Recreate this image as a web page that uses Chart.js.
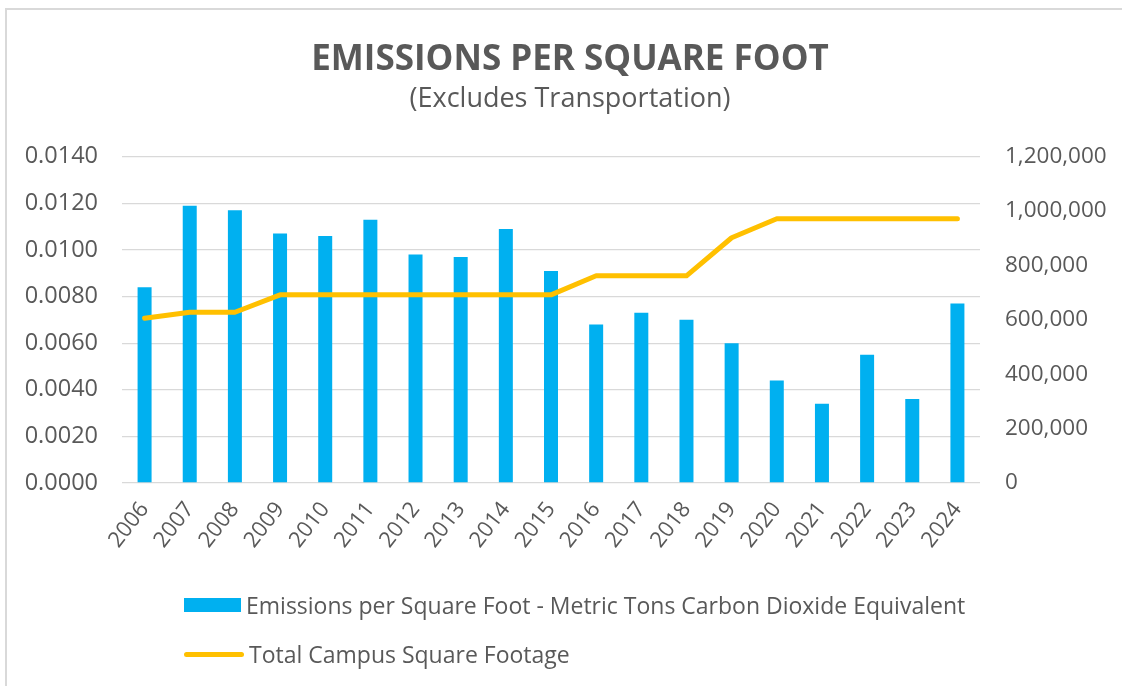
<!DOCTYPE html>
<html>
<head>
<meta charset="utf-8">
<script src="https://cdn.jsdelivr.net/npm/chart.js@4.4.1/dist/chart.umd.min.js"></script>
<style>
  html, body { margin: 0; padding: 0; background: #fff; overflow: hidden; width: 1122px; height: 686px; }
  #hline { position: absolute; left: 5px; top: 8px; width: 1117px; height: 2px; background: #d9d9d9; }
  #vline { position: absolute; left: 5px; top: 8px; width: 2px; height: 678px; background: #d9d9d9; }
  #wrap { position: absolute; left: 6px; top: 9px; width: 1116px; height: 677px; overflow: hidden; }
  #inner { position: absolute; left: 0; top: 0; width: 1128px; height: 677px; }
  #legend { position: absolute; left: 0; top: 0; font-family: 'Open Sans', sans-serif; font-size: 23px; color: #595959; }
  .item { position: absolute; white-space: nowrap; display: flex; align-items: center; }
  .sw { display: inline-block; margin-right: 5px; }
</style>
</head>
<body>
<div id="hline"></div>
<div id="vline"></div>
<div id="wrap"><div id="inner"><canvas id="c"></canvas></div></div>
<div id="legend"></div>
<script>
const titleText = 'EMISSIONS PER SQUARE FOOT';
const subtitleText = '(Excludes Transportation)';
const years = ['2006','2007','2008','2009','2010','2011','2012','2013','2014','2015','2016','2017','2018','2019','2020','2021','2022','2023','2024'];
const emissionsLabel = 'Emissions per Square Foot - Metric Tons Carbon Dioxide Equivalent';
const emissions = [0.0084,0.0119,0.0117,0.0107,0.0106,0.0113,0.0098,0.0097,0.0109,0.0091,0.0068,0.0073,0.0070,0.0060,0.0044,0.0034,0.0055,0.0036,0.0077];
const footageLabel = 'Total Campus Square Footage';
const footage = [606000,628000,628000,692000,692000,692000,692000,692000,692000,692000,762000,762000,762000,902000,972000,972000,972000,972000,972000];
const leftTicks = [0,0.002,0.004,0.006,0.008,0.010,0.012,0.014];
const rightTicks = [0,200000,400000,600000,800000,1000000,1200000];

const barColor = '#00B0F0';
const lineColor = '#FFC000';
const textColor = '#595959';
const gridColor = '#d9d9d9';
const FONT = "'Open Sans', sans-serif";

Chart.defaults.font.family = FONT;
Chart.defaults.color = textColor;

const ctx = document.getElementById('c');
new Chart(ctx, {
  data: {
    labels: years,
    datasets: [
      { type: 'line', label: footageLabel, data: footage, yAxisID: 'y1', borderColor: lineColor, backgroundColor: lineColor,
        borderWidth: 5, pointRadius: 0, borderCapStyle: 'round', borderJoinStyle: 'round', tension: 0, order: 0 },
      { type: 'bar', label: emissionsLabel, data: emissions, yAxisID: 'y', backgroundColor: barColor,
        barPercentage: 0.31, categoryPercentage: 1, order: 1 }
    ]
  },
  options: {
    responsive: true,
    maintainAspectRatio: false,
    animation: false,
    layout: { padding: { left: 0, right: 0, top: 0, bottom: 113 } },
    plugins: {
      legend: { display: false },
      tooltip: { enabled: false },
      title: { display: true, text: titleText, color: textColor,
        font: { family: FONT, size: 35, weight: 'bold', lineHeight: 1.2 },
        padding: { top: 30, bottom: 2 } },
      subtitle: { display: true, text: subtitleText, color: textColor,
        font: { family: FONT, size: 27, lineHeight: 1.2 },
        padding: { top: 0, bottom: 41.3 } }
    },
    scales: {
      x: {
        grid: { display: false },
        border: { display: false },
        ticks: { minRotation: 52, maxRotation: 52, padding: 6, color: textColor, font: { size: 22 }, autoSkip: false },
        afterFit: s => { s.height = 90; }
      },
      y: {
        position: 'left', min: 0, max: 0.014,
        afterBuildTicks: s => { s.ticks = leftTicks.map(v => ({ value: v })); },
        grid: { color: gridColor, lineWidth: 1.3, drawTicks: false },
        border: { display: false },
        ticks: { padding: 24, color: textColor, font: { size: 23.5 }, callback: v => Number(v).toFixed(4) },
        afterFit: s => { s.width = 116; }
      },
      y1: {
        position: 'right', min: 0, max: 1200000,
        afterBuildTicks: s => { s.ticks = rightTicks.map(v => ({ value: v })); },
        grid: { display: false, drawTicks: false },
        border: { display: false },
        ticks: { padding: 25, color: textColor, font: { size: 22.5 }, callback: v => Number(v).toLocaleString('en-US') },
        afterFit: s => { s.width = 154; }
      }
    }
  }
});

// HTML legend built from dataset labels
const lg = document.getElementById('legend');
const items = [
  { label: emissionsLabel, top: 606, sw: `<span class="sw" style="width:57px;height:14px;background:${barColor}"></span>` },
  { label: footageLabel, top: 655, sw: `<span class="sw" style="width:60px;height:5px;border-radius:3px;background:${lineColor}"></span>` }
];
items.forEach(it => {
  const d = document.createElement('div');
  d.className = 'item';
  d.style.left = '184px';
  d.style.top = (it.top - 16) + 'px';
  d.style.height = '30px';
  d.innerHTML = it.sw + '<span></span>';
  d.lastChild.textContent = it.label;
  lg.appendChild(d);
});
</script>
</body>
</html>
